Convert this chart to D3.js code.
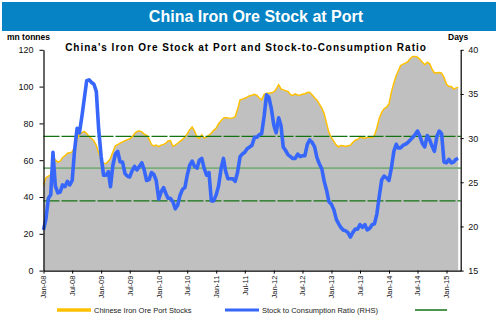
<!DOCTYPE html>
<html>
<head>
<meta charset="utf-8">
<script src="https://cdn.jsdelivr.net/npm/d3@7"></script>
<style>
body { margin: 0; background: #fff; }
svg { display: block; font-family: "Liberation Sans", Arial, sans-serif; }
</style>
</head>
<body>
<svg id="chart" width="498" height="321"></svg>
<script>
// half-monthly readings, first point 1 Jan 2008
var portStocks = [
    46.6, 50.5, 51.3, 52.0, 57.0, 60.2, 59.0, 59.5, 61.5, 62.3,
    63.8, 64.0, 64.5, 67.0, 71.5, 74.2, 75.0, 75.6, 74.5, 72.8,
    71.8, 70.5, 68.0, 64.0, 60.0, 58.4, 58.2, 59.5, 61.0, 64.5,
    67.8, 68.5, 69.3, 70.0, 70.6, 71.2, 71.7, 72.5, 74.5, 75.6,
    75.8, 75.4, 74.2, 73.5, 71.5, 68.5, 67.8, 68.2, 67.4, 68.2,
    68.6, 69.3, 70.4, 70.6, 67.6, 68.2, 69.2, 70.2, 71.3, 72.5,
    74.3, 76.5, 78.0, 76.0, 72.5, 71.8, 73.8, 72.0, 72.5, 73.6,
    74.8, 76.2, 77.5, 79.8, 81.5, 82.9, 83.2, 82.9, 82.8, 83.0,
    83.6, 87.5, 92.8, 93.2, 93.7, 94.3, 95.0, 95.3, 95.8, 95.2,
    93.8, 92.8, 95.8, 96.4, 96.4, 96.6, 97.1, 98.5, 101.0, 98.8,
    98.2, 97.8, 97.3, 95.6, 95.2, 96.1, 95.3, 95.4, 95.8, 96.1,
    96.8, 96.9, 95.4, 93.9, 92.6, 90.5, 88.3, 85.2, 80.0, 75.0,
    72.2, 70.2, 68.2, 67.2, 68.0, 67.8, 67.4, 67.8, 68.1, 69.6,
    70.9, 71.3, 72.6, 72.2, 72.0, 72.4, 72.6, 72.2, 73.5, 77.5,
    83.0, 86.0, 88.0, 88.8, 90.5, 97.0, 102.0, 106.0, 108.5, 111.5,
    112.2, 112.8, 113.6, 115.3, 116.3, 116.3, 116.0, 114.8, 113.2, 111.9,
    113.2, 112.4, 109.5, 107.4, 107.5, 107.6, 107.3, 105.0, 101.3, 100.1,
    100.1, 98.6, 99.2, 99.7
];

var stockDays = [
    19.6, 20.8, 23.2, 23.6, 28.4, 24.6, 23.8, 23.9, 24.7, 24.5,
    25.1, 24.7, 25.2, 28.6, 31.1, 30.6, 32.5, 34.5, 36.5, 36.6,
    36.3, 36.1, 35.3, 31.0, 27.9, 25.8, 25.8, 26.2, 24.5, 26.9,
    28.2, 28.5, 27.3, 27.3, 26.0, 25.7, 25.6, 26.3, 26.8, 26.4,
    26.8, 27.2, 26.4, 25.2, 25.3, 26.1, 25.9, 25.2, 23.1, 23.9,
    24.4, 23.7, 23.2, 23.2, 22.8, 22.0, 22.4, 23.5, 24.2, 24.4,
    25.8, 26.9, 27.4, 26.8, 26.6, 27.5, 27.7, 26.6, 25.8, 26.1,
    22.9, 22.9, 23.6, 24.6, 26.6, 27.7, 26.3, 25.4, 25.4, 25.4,
    25.1, 26.1, 27.9, 28.2, 28.4, 28.8, 29.0, 29.2, 30.1, 30.1,
    30.4, 30.5, 32.5, 34.9, 34.6, 33.4, 31.5, 30.6, 32.3, 31.4,
    29.0, 28.6, 28.1, 27.9, 27.7, 27.7, 28.2, 27.9, 28.0, 28.0,
    29.3, 29.8, 29.5, 29.0, 27.8, 27.1, 26.5, 25.1, 24.1, 22.8,
    22.5, 21.9, 20.8, 20.3, 19.9, 19.6, 19.5, 19.3, 18.8, 19.3,
    19.7, 19.7, 20.2, 19.9, 20.2, 19.6, 19.8, 20.2, 20.3, 21.4,
    23.5, 25.3, 25.7, 25.5, 25.2, 26.6, 28.5, 29.3, 28.9, 28.9,
    29.2, 29.3, 29.5, 29.8, 30.1, 30.4, 30.8, 30.2, 29.4, 29.0,
    30.3, 29.8, 29.1, 28.5, 30.2, 30.8, 30.5, 27.3, 27.2, 27.6,
    27.2, 27.3, 27.6, 27.7
];

var tickLabels = ["Jan-08", "Jul-08", "Jan-09", "Jul-09", "Jan-10", "Jul-10", "Jan-11", "Jul-11",
                  "Jan-12", "Jul-12", "Jan-13", "Jul-13", "Jan-14", "Jul-14", "Jan-15"];
var leftTicks = [0, 20, 40, 60, 80, 100, 120];
var rightTicks = [15, 20, 25, 30, 35, 40];
// average days of stock and one standard deviation either side
var bandLevels = [22.9, 26.6, 30.2];

var seriesNames = ["Chinese Iron Ore Port Stocks", "Stock to Consumption Ratio (RHS)"];

function pointDate(i) {
    return new Date(2008, Math.floor(i / 2), i % 2 ? 16 : 1);
}

var rows = portStocks.map(function(v, i) {
    return { date: pointDate(i), stock: v, days: stockDays[i] };
});

var svg = d3.select('#chart');
// note: "top" is taken by window.top, hence the plot* names
var plotLeft = 43.5, plotRight = 460.7, plotTop = 49.8, plotBottom = 270.6;

var x = d3.scaleTime()
    .domain([new Date(2008, 0, 1), new Date(2015, 3, 1)])
    .range([plotLeft, plotRight]);
var yL = d3.scaleLinear().domain([0, 120]).range([plotBottom, plotTop]);
var yR = d3.scaleLinear().domain([15, 40]).range([plotBottom, plotTop]);

// header bar
svg.append('rect')
    .attr('x', 2).attr('y', 2)
    .attr('width', 494).attr('height', 29)
    .attr('fill', '#0583c4');
svg.append('text')
    .attr('x', 256).attr('y', 22)
    .attr('text-anchor', 'middle')
    .attr('fill', '#fff')
    .style('font-weight', 'bold')
    .style('font-size', '16px')
    .text('China Iron Ore Stock at Port');

svg.append('text')
    .attr('x', 246).attr('y', 51)
    .attr('text-anchor', 'middle')
    .style('font-weight', 'bold')
    .style('font-size', '10px')
    .style('letter-spacing', '1px')
    .text("China's Iron Ore Stock at Port and Stock-to-Consumption Ratio");

svg.append('text')
    .attr('x', 7).attr('y', 40)
    .style('font-weight', 'bold')
    .style('font-size', '8.5px')
    .text('mn tonnes');
svg.append('text')
    .attr('x', 448).attr('y', 40)
    .style('font-weight', 'bold')
    .style('font-size', '8.5px')
    .text('Days');

// stock area with gold top edge
var area = d3.area()
    .x(function(d) { return x(d.date); })
    .y0(plotBottom)
    .y1(function(d) { return yL(d.stock); });
svg.append('path')
    .datum(rows)
    .attr('d', area)
    .attr('fill', '#c0c0c0');
svg.append('path')
    .datum(rows)
    .attr('d', d3.line()
        .x(function(d) { return x(d.date); })
        .y(function(d) { return yL(d.stock); }))
    .attr('fill', 'none')
    .attr('stroke', '#ffc000')
    .attr('stroke-width', 1.5);

// band lines
svg.selectAll('line.band')
    .data(bandLevels)
    .enter().append('line')
    .attr('class', 'band')
    .attr('x1', plotLeft).attr('x2', plotRight)
    .attr('y1', function(d) { return yR(d); })
    .attr('y2', function(d) { return yR(d); })
    .attr('stroke', function(d, i) { return i == 1 ? '#79ad79' : '#137313'; })
    .attr('stroke-width', function(d, i) { return i == 1 ? 1.8 : 1.3; })
    .attr('stroke-dasharray', function(d, i) { return i == 1 ? null : '16,2'; });

svg.append('path')
    .datum(rows)
    .attr('d', d3.line()
        .x(function(d) { return x(d.date); })
        .y(function(d) { return yR(d.days); }))
    .attr('fill', 'none')
    .attr('stroke', '#3767fa')
    .attr('stroke-width', 3.6)
    .attr('stroke-linejoin', 'round');

// axes
var ax = svg.append('g')
    .attr('transform', 'translate(0,' + plotBottom + ')')
    .call(d3.axisBottom(x)
        .tickValues(tickLabels.map(d3.timeParse('%b-%y')))
        .tickFormat(function(d, i) { return tickLabels[i]; })
        .tickSize(3).tickSizeOuter(0));
ax.selectAll('text')
    .attr('transform', 'rotate(-90)')
    .attr('x', -5).attr('y', 0).attr('dy', '0.33em')
    .style('text-anchor', 'end')
    .style('font-size', '7.5px');

var al = svg.append('g')
    .attr('transform', 'translate(' + plotLeft + ',0)')
    .call(d3.axisLeft(yL).tickValues(leftTicks).tickSize(4).tickPadding(6).tickSizeOuter(0));
al.selectAll('text').style('font-size', '9px');

var ar = svg.append('g')
    .attr('transform', 'translate(' + plotRight + ',0)')
    .call(d3.axisRight(yR).tickValues(rightTicks).tickSize(3).tickPadding(4.5).tickSizeOuter(0));
ar.selectAll('text').style('font-size', '9px');

svg.selectAll('.domain').attr('stroke', '#000').attr('stroke-width', 1.2);
svg.selectAll('.tick text').attr('fill', '#111').style('font-family', '"Liberation Sans", Arial, sans-serif');

// legend
var legend = [
    { x: 57, name: seriesNames[0], color: '#ffc000', w: 3.5 },
    { x: 225, name: seriesNames[1], color: '#3767fa', w: 3 },
    { x: 415, name: '', color: '#137313', w: 1.5 }
];
var lg = svg.selectAll('g.legend').data(legend).enter().append('g')
    .attr('class', 'legend')
    .attr('transform', function(d) { return 'translate(' + d.x + ',310)'; });
lg.append('line')
    .attr('x1', 0).attr('x2', function(d) { return d.name ? 34 : 32; })
    .attr('stroke', function(d) { return d.color; })
    .attr('stroke-width', function(d) { return d.w; });
lg.append('text')
    .attr('x', 37).attr('y', 2.6)
    .style('font-size', '7.5px')
    .attr('fill', '#222')
    .text(function(d) { return d.name; });
</script>
</body>
</html>
